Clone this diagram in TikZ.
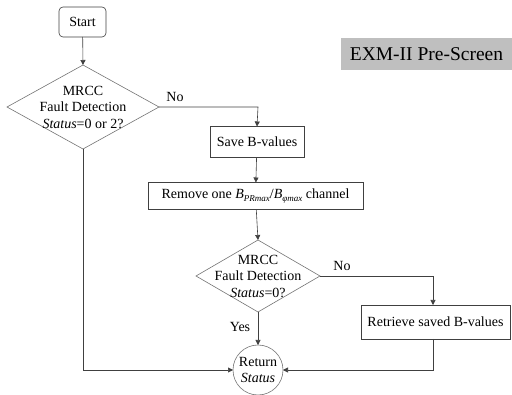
\documentclass[tikz,border=0pt]{standalone}
\usepackage{fontspec}
\setmainfont{Liberation Serif}
\usetikzlibrary{shapes.geometric,arrows.meta}
\newcommand{\lowsub}[1]{\raisebox{-2.5pt}{\fontsize{9}{9}\selectfont\textit{#1}}}
\begin{document}
\begin{tikzpicture}[x=1pt,y=-1pt,
  font=\fontsize{14}{16.5}\selectfont,
  every node/.style={inner sep=0pt, outer sep=0pt},
  proc/.style={draw=black!75, line width=0.6pt, fill=white, align=center},
  dshape/.style={draw=black!55, line width=0.6pt},
  flow/.style={draw=black!75, line width=0.6pt, -{Triangle[width=5pt,length=5pt]}},
  lbl/.style={font=\fontsize{14}{16}\selectfont}]
\useasboundingbox (0,0) rectangle (512,395);

% title tag
\node[fill=black!25, minimum width=171pt, minimum height=32pt, anchor=center,
      font=\fontsize{19.5}{22}\selectfont] (title) at (426.5,54) {EXM-II Pre-Screen};

% start terminal
\node[proc, rounded corners=4pt, minimum width=47pt, minimum height=30pt] (start) at (82.5,22) {Start};

% first decision
\path[dshape] (7,107) -- (83,65) -- (159,107) -- (83,149) -- cycle;
\coordinate (d1n) at (83,65);
\coordinate (d1e) at (159,107);
\coordinate (d1s) at (83,149);
\node[align=center] (d1) at (83,107) {MRCC\\Fault Detection\\\textit{Status}=0 or 2?};

% processing boxes
\node[proc, minimum width=94pt, minimum height=31pt] (save) at (257,142) {Save B-values};
\node[proc, minimum width=215pt, minimum height=27pt] (remove) at (255.5,196)
  {Remove one \textit{B}\lowsub{PRmax}/\textit{B}\lowsub{φmax} channel};

% second decision
\path[dshape] (196,276) -- (258,240) -- (320,276) -- (258,312) -- cycle;
\coordinate (d2n) at (258,240);
\coordinate (d2e) at (320,276);
\coordinate (d2s) at (258,312);
\node[align=center] (d2) at (258,276) {MRCC\\Fault Detection\\\textit{Status}=0?};

\node[proc, minimum width=149pt, minimum height=34pt] (retrieve) at (435.5,322) {Retrieve saved B-values};
\node[draw=black!55, line width=0.6pt, circle, minimum size=50pt, align=center,
      font=\fontsize{14}{15.5}\selectfont] (ret) at (258,370)
  {Return\\\textit{Status}};

% connectors
\coordinate (c1) at (258,107);
\coordinate (c2) at (433,276);
\coordinate (c3) at (433,370);
\coordinate (c4) at (83,370);

\draw[flow] (start) -- (d1n);
\draw[flow] (d1e) -- (c1) -- (save.north);
\node[lbl] (no1) at (175,97) {No};
\draw[flow] (save) -- (remove);
\draw[flow] (remove) -- (d2n);
\draw[flow] (d2e) -- (c2) -- (retrieve.north -| c2);
\node[lbl] (no2) at (342,266) {No};
\draw[flow] (d2s) -- (ret);
\node[lbl] (yes) at (240,327) {Yes};
\draw[flow] (retrieve.south -| c3) -- (c3) -- (ret.east);
\draw[flow] (d1s) -- (c4) -- (ret.west);
\end{tikzpicture}
\end{document}
